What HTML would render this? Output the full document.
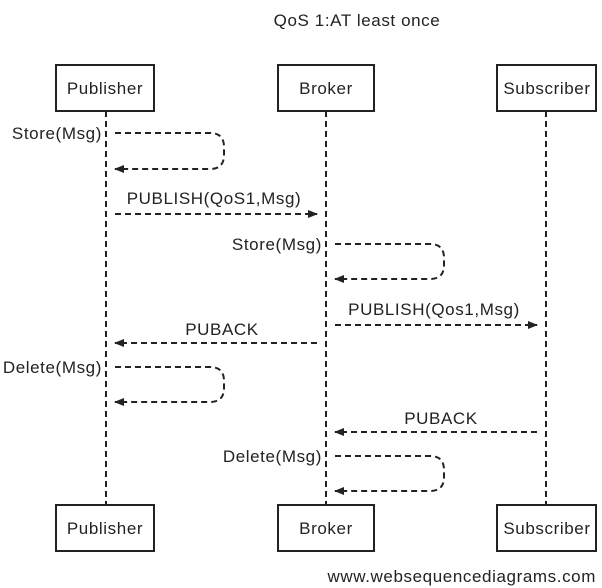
<!DOCTYPE html>
<html><head><style>body{margin:0;background:#fff}svg{display:block}text{font-family:"Liberation Sans",sans-serif;font-size:17px;letter-spacing:0.6px;fill:#222}</style></head><body>
<svg width="602" height="588" viewBox="0 0 602 588">
<defs><marker id="a" markerWidth="10" markerHeight="8" refX="9" refY="4" orient="auto" markerUnits="userSpaceOnUse"><path d="M0,0 L10,4 L0,8z" fill="#222"/></marker></defs>
<text x="357" y="26" text-anchor="middle">QoS 1:AT least once</text>
<g stroke="#222" stroke-width="2" stroke-dasharray="6,4" fill="none">
<line x1="106" y1="111" x2="106" y2="505"/><line x1="326" y1="111" x2="326" y2="505"/><line x1="546" y1="111" x2="546" y2="505"/>
</g>
<g stroke="#222" stroke-width="2" fill="#fff">
<rect x="56" y="65" width="98" height="46"/><rect x="278" y="65" width="96" height="46"/><rect x="497" y="65" width="99" height="46"/>
<rect x="56" y="505" width="98" height="46"/><rect x="278" y="505" width="96" height="46"/><rect x="497" y="505" width="99" height="46"/>
</g>
<g text-anchor="middle">
<text x="105" y="94">Publisher</text><text x="326" y="94">Broker</text><text x="547" y="94">Subscriber</text>
<text x="105" y="534">Publisher</text><text x="326" y="534">Broker</text><text x="547" y="534">Subscriber</text>
</g>
<g stroke="#222" stroke-width="2" stroke-dasharray="6,4" fill="none" marker-end="url(#a)">
<path d="M115,133 H210 Q224,133 224,147 V155 Q224,169 210,169 H115"/>
<line x1="115" y1="214" x2="317" y2="214"/>
<path d="M335,244 H430 Q444,244 444,258 V265 Q444,279 430,279 H335"/>
<line x1="335" y1="325" x2="537" y2="325"/>
<line x1="317" y1="343" x2="115" y2="343"/>
<path d="M115,367 H210 Q224,367 224,381 V388 Q224,402 210,402 H115"/>
<line x1="537" y1="432" x2="335" y2="432"/>
<path d="M335,456 H430 Q444,456 444,470 V477 Q444,491 430,491 H335"/>
</g>
<g text-anchor="end">
<text x="102" y="139">Store(Msg)</text><text x="322" y="250">Store(Msg)</text>
<text x="102" y="373">Delete(Msg)</text><text x="322" y="462">Delete(Msg)</text>
</g>
<g text-anchor="middle">
<text x="214" y="204">PUBLISH(QoS1,Msg)</text><text x="434" y="315">PUBLISH(Qos1,Msg)</text>
<text x="222" y="335">PUBACK</text><text x="441" y="424">PUBACK</text>
</g>
<text x="596" y="582" text-anchor="end">www.websequencediagrams.com</text>
</svg>
</body></html>
